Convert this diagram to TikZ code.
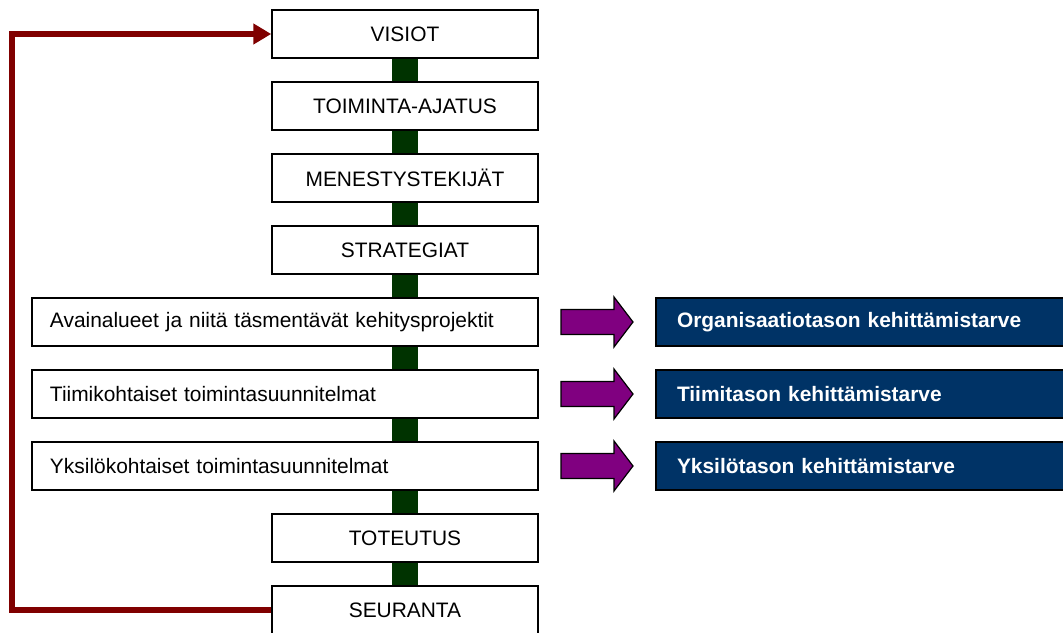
\documentclass[tikz,border=0pt]{standalone}
\usepackage{fontspec}
\setmainfont{Liberation Sans}
\usetikzlibrary{arrows.meta}
\definecolor{loopred}{HTML}{800000}
\definecolor{bargreen}{HTML}{003300}
\definecolor{blockpurple}{HTML}{800080}
\definecolor{needblue}{HTML}{003366}
\begin{document}
\begin{tikzpicture}[x=1bp,y=-1bp,
  stage/.style={draw=black,line width=1.5bp,fill=white,minimum width=266bp,minimum height=48bp,inner sep=0,font=\fontsize{21}{24}\selectfont},
  plan/.style={draw=black,line width=1.5bp,fill=white,minimum height=48bp,text width=470bp,inner xsep=18bp,inner ysep=0,align=left,font=\fontsize{21}{24}\selectfont},
  need/.style={draw=black,line width=1.5bp,fill=needblue,text=white,minimum height=48bp,text width=376bp,inner xsep=21bp,inner ysep=0,align=left,font=\bfseries\fontsize{21}{24}\selectfont},
  link/.style={draw=bargreen,line width=26bp},
  feedback/.style={draw=loopred,line width=5.5bp,-{Triangle[length=18bp,width=20bp]}},
  blockarrow/.style={draw=black,line width=1.2bp,fill=blockpurple,line join=miter}
]
\useasboundingbox (0,0) rectangle (1063,633);
\begin{scope}
\clip (0,0) rectangle (1063,633);
% stages of the process
\node[stage] (visiot) at (405,34) {VISIOT};
\node[stage] (toiminta) at (405,106) {TOIMINTA-AJATUS};
\node[stage] (menestys) at (405,178) {MENESTYSTEKIJÄT};
\node[stage] (strat) at (405,250) {STRATEGIAT};
\node[plan] (avain) at (285,322) {Avainalueet ja niitä täsmentävät kehitysprojektit};
\node[plan] (tiimi) at (285,394) {Tiimikohtaiset toimintasuunnitelmat};
\node[plan] (yksilo) at (285,466) {Yksilökohtaiset toimintasuunnitelmat};
\node[stage] (toteutus) at (405,538) {TOTEUTUS};
\node[stage] (seuranta) at (405,610) {SEURANTA};
% development needs
\node[need] (org) at (865,322) {Organisaatiotason kehittämistarve};
\node[need] (team) at (865,394) {Tiimitason kehittämistarve};
\node[need] (indiv) at (865,466) {Yksilötason kehittämistarve};
% green links between stages
\draw[link] (visiot.south) -- (toiminta.north);
\draw[link] (toiminta.south) -- (menestys.north);
\draw[link] (menestys.south) -- (strat.north);
\draw[link] (strat.south) -- (strat.south |- avain.north);
\draw[link] (avain.south -| visiot) -- (tiimi.north -| visiot);
\draw[link] (tiimi.south -| visiot) -- (yksilo.north -| visiot);
\draw[link] (yksilo.south -| visiot) -- (toteutus.north);
\draw[link] (toteutus.south) -- (seuranta.north);
% feedback loop
\draw[feedback] (seuranta.west) -- ++(-259,0) |- (visiot.west);
% block arrows towards the needs
\foreach \y in {322,394,466}{
  \draw[blockarrow] (561,\y-12.5) -- (614,\y-12.5) -- (614,\y-25) -- (633,\y) -- (614,\y+25) -- (614,\y+12.5) -- (561,\y+12.5) -- cycle;
}
\end{scope}
\end{tikzpicture}
\end{document}
